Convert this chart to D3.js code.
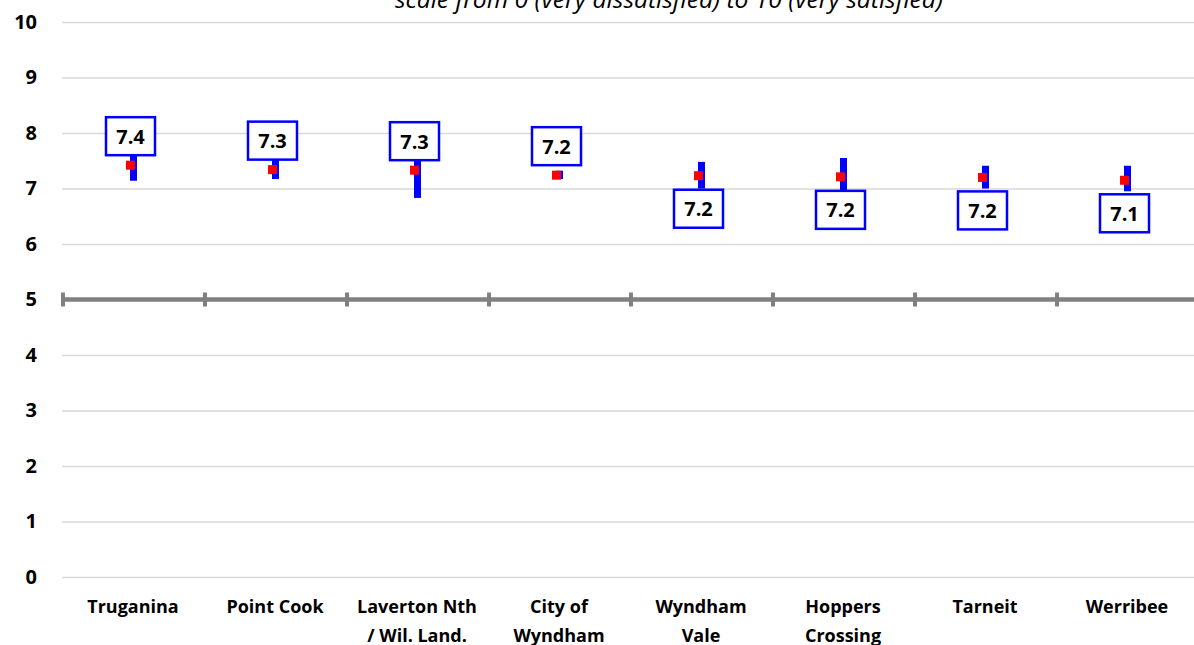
<!DOCTYPE html>
<html>
<head>
<meta charset="utf-8">
<script src="https://cdn.jsdelivr.net/npm/d3@7"></script>
<style>
  body { margin: 0; background: #fff; }
  text { font-family: "Open Sans", Lato, sans-serif; }
</style>
</head>
<body>
<div id="chart"></div>
<script>
// data
const categories = ['Truganina', 'Point Cook', 'Laverton Nth\n/ Wil. Land.', 'City of\nWyndham',
  'Wyndham\nVale', 'Hoppers\nCrossing', 'Tarneit', 'Werribee'];
const means = [7.42, 7.34, 7.33, 7.24, 7.23, 7.21, 7.2, 7.148];
const lower = [7.14, 7.17, 6.83, 7.17, 7.0, 6.9, 7.0, 6.95];
const upper = [7.72, 7.55, 7.85, 7.32, 7.48, 7.55, 7.41, 7.41];
const labelPos = ['above', 'above', 'above', 'above', 'below', 'below', 'below', 'below'];
const yTicks = [0, 1, 2, 3, 4, 5, 6, 7, 8, 9, 10];
const benchmark = 5;
const title = 'scale from 0 (very dissatisfied) to 10 (very satisfied)';

const width = 1194;
const height = 645;

const svg = d3.select('#chart')
  .append('svg')
  .attr('width', width)
  .attr('height', height);

const x = d3.scaleBand()
  .domain(categories)
  .range([62, 1198])
  .padding(0);

const y = d3.scaleLinear()
  .domain([0, 10])
  .range([577, 22]);

// title (clipped at the top, as in the original)
svg.append('text')
  .attr('x', 395)
  .attr('y', 8)
  .attr('text-anchor', 'start')
  .attr('font-size', 23)
  .attr('font-style', 'italic')
  .attr('fill', '#000')
  .attr('textLength', 548)
  .attr('lengthAdjust', 'spacingAndGlyphs')
  .text(title);

// gridlines
const grid = svg.append('g')
  .attr('transform', 'translate(62,0)')
  .call(d3.axisLeft(y).tickValues(yTicks).tickSize(-(width - 62)).tickFormat(''));
grid.select('.domain').remove();
grid.selectAll('line').attr('stroke', '#d9d9d9').attr('stroke-width', 1.3);

// y labels
const yAxis = svg.append('g')
  .attr('transform', 'translate(37,0)')
  .call(d3.axisLeft(y).tickValues(yTicks).tickSize(0).tickPadding(0));
yAxis.select('.domain').remove();
yAxis.selectAll('text')
  .attr('font-size', 20)
  .attr('font-weight', 'bold')
  .attr('fill', '#000')
  .style('font-family', '"Open Sans", sans-serif');

// benchmark line at 5 with band ticks
const bench = svg.append('g').attr('class', 'bench');
bench.append('line')
  .attr('x1', 62)
  .attr('x2', width)
  .attr('y1', y(benchmark))
  .attr('y2', y(benchmark))
  .attr('stroke', '#808080')
  .attr('stroke-width', 4.5);
bench.selectAll('.btick')
  .data(categories)
  .enter()
  .append('line')
  .attr('x1', (d) => x(d) + 1)
  .attr('x2', (d) => x(d) + 1)
  .attr('y1', y(benchmark) - 7)
  .attr('y2', y(benchmark) + 7)
  .attr('stroke', '#808080')
  .attr('stroke-width', 4);

// x labels
const xLabels = svg.append('g').attr('class', 'xlabels');
categories.forEach((c) => {
  const lines = c.split('\n');
  const t = xLabels.append('text')
    .attr('x', x(c) + x.bandwidth() / 2)
    .attr('y', 613)
    .attr('text-anchor', 'middle')
    .attr('font-size', 18)
    .attr('font-weight', 'bold')
    .attr('fill', '#000');
  lines.forEach((line, i) => {
    t.append('tspan')
      .attr('x', x(c) + x.bandwidth() / 2)
      .attr('dy', i === 0 ? 0 : 29)
      .text(line);
  });
});

const cx = (i) => x(categories[i]) + x.bandwidth() / 2 + 0.5;

// error bars
const marks = svg.append('g').attr('class', 'marks');
marks.selectAll('.err')
  .data(means)
  .enter()
  .append('line')
  .attr('x1', (d, i) => cx(i))
  .attr('x2', (d, i) => cx(i))
  .attr('y1', (d, i) => y(upper[i]))
  .attr('y2', (d, i) => y(lower[i]))
  .attr('stroke', '#0000ff')
  .attr('stroke-width', 7);

// data labels in boxes
const fmt = d3.format('.1f');
const boxW = 49;
const boxH = 38;
const labels = marks.selectAll('.lab')
  .data(means)
  .enter()
  .append('g')
  .attr('transform', (d, i) => {
    const top = labelPos[i] === 'above' ? y(d) - 10 - boxH : y(d) + 14;
    return `translate(${cx(i) - 3 - boxW / 2}, ${top})`;
  });
labels.append('rect')
  .attr('width', boxW)
  .attr('height', boxH)
  .attr('fill', '#fff')
  .attr('stroke', '#0000ff')
  .attr('stroke-width', 2.5);
labels.append('text')
  .attr('x', boxW / 2)
  .attr('y', boxH / 2 + 7.5)
  .attr('text-anchor', 'middle')
  .attr('font-size', 20)
  .attr('font-weight', 'bold')
  .attr('fill', '#000')
  .text((d) => fmt(d));

// red mean markers
marks.selectAll('.pt')
  .data(means)
  .enter()
  .append('rect')
  .attr('x', (d, i) => cx(i) - 3 - 4.5)
  .attr('y', (d) => y(d) - 4.5)
  .attr('width', 9)
  .attr('height', 9)
  .attr('fill', '#ff0000');
</script>
</body>
</html>
